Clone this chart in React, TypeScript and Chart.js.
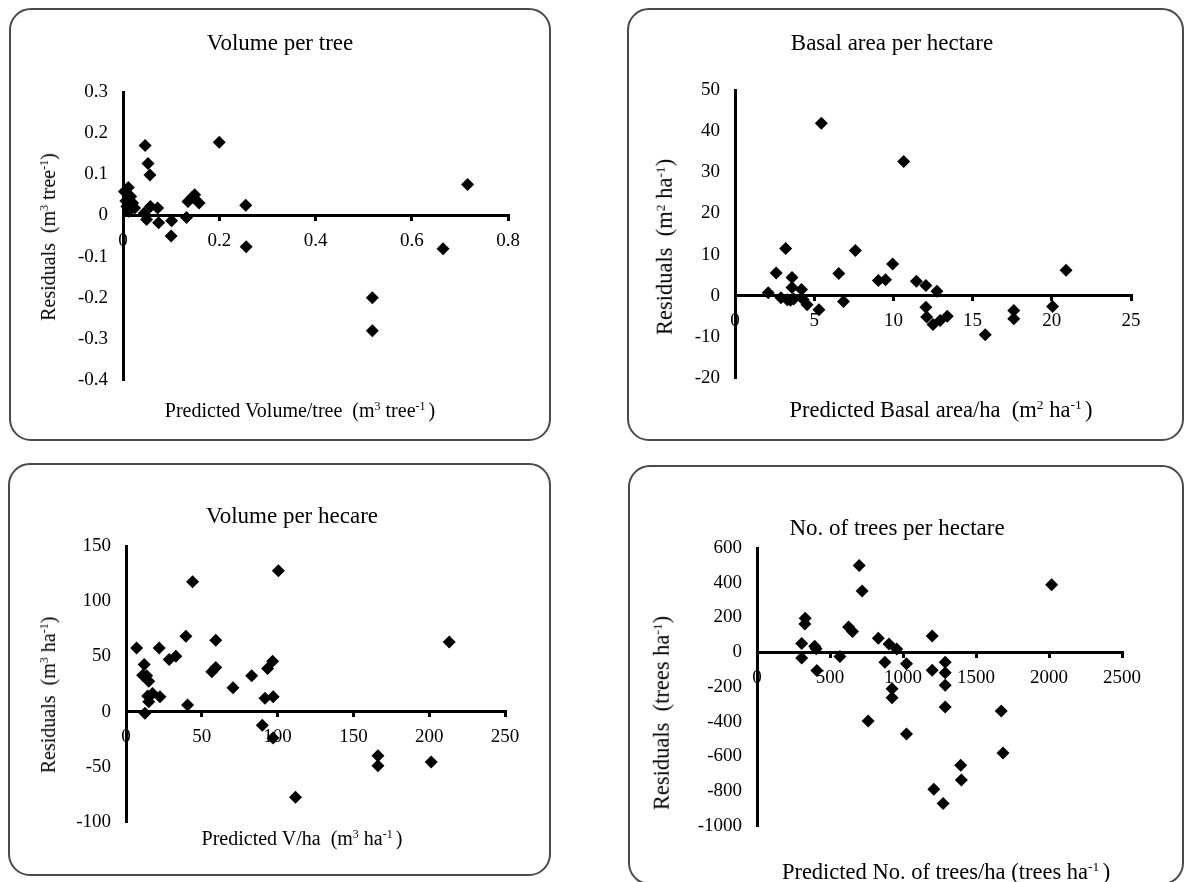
import React, { useEffect, useRef } from "react";
import { Chart, registerables } from "chart.js";

Chart.register(...registerables);

const FONT = '"Liberation Serif", "Times New Roman", Times, serif';

// ---------- Panel 1: Volume per tree ----------
const volTreePredicted = [
  0.003, 0.011, 0.016, 0.006, 0.02, 0.012, 0.024, 0.008, 0.046, 0.052, 0.056, 0.044,
  0.057, 0.072, 0.049, 0.074, 0.101, 0.1, 0.132, 0.135, 0.149, 0.158, 0.144, 0.2,
  0.255, 0.256, 0.518, 0.518, 0.665, 0.716,
];
const volTreeResidual = [
  0.058, 0.068, 0.046, 0.035, 0.03, 0.01, 0.018, 0.022, 0.17, 0.126, 0.098, 0.005,
  0.022, 0.018, -0.01, -0.018, -0.013, -0.05, -0.005, 0.034, 0.05, 0.03, 0.044, 0.178,
  0.025, -0.076, -0.2, -0.28, -0.081, 0.075,
];
const volTreeXTicks = ["0", "0.2", "0.4", "0.6", "0.8"];
const volTreeYTicks = ["0.3", "0.2", "0.1", "0", "-0.1", "-0.2", "-0.3", "-0.4"];

// ---------- Panel 2: Basal area per hectare ----------
const basalPredicted = [
  2.1, 2.6, 2.9, 3.2, 3.3, 3.5, 3.6, 3.6, 3.7, 4.2, 4.3, 4.55, 5.3, 5.45, 6.55, 6.85,
  7.6, 9.05, 9.5, 9.95, 10.65, 11.45, 12.05, 12.05, 12.1, 12.5, 12.75, 12.95, 13.4,
  15.8, 17.6, 17.6, 20.05, 20.9,
];
const basalResidual = [
  0.7, 5.5, -0.5, 11.5, -1, -1.1, 4.4, 2, -0.8, 1.5, -0.9, -2.2, -3.4, 41.9, 5.4, -1.4,
  11, 3.7, 3.9, 7.7, 32.6, 3.5, 2.5, -2.8, -5.2, -7, 1.1, -6, -5, -9.5, -3.6, -5.6,
  -2.6, 6.2,
];
const basalXTicks = ["0", "5", "10", "15", "20", "25"];
const basalYTicks = ["50", "40", "30", "20", "10", "0", "-10", "-20"];

// ---------- Panel 3: Volume per hectare ----------
const volHaPredicted = [
  7, 12, 11, 13.6, 15, 21.9, 28.5, 32.9, 39.5, 43.9, 40.6, 12.5, 14.3, 15, 17.5, 22.4,
  56.6, 59.2, 59.2, 70.6, 82.9, 91.7, 93.4, 96.7, 97.1, 100.5, 89.9, 97, 111.8, 166.2,
  166.2, 201.3, 213.2,
];
const volHaResidual = [
  57.7, 42.6, 33, 32.4, 27.6, 57.7, 47.1, 50.2, 68.2, 117.7, 6, -1.5, 14.1, 9, 16.5,
  13.5, 36, 39.9, 64.6, 21.6, 32.4, 12, 39, 45.6, 13.5, 127.5, -12.3, -24, -77.5, -40,
  -49, -45.6, 63.1,
];
const volHaXTicks = ["0", "50", "100", "150", "200", "250"];
const volHaYTicks = ["150", "100", "50", "0", "-50", "-100"];

// ---------- Panel 4: No. of trees per hectare ----------
const treesPredicted = [
  306, 306, 330, 328, 395, 405, 410, 568, 627, 654, 700, 720, 761, 831, 876, 904, 925,
  925, 957, 1024, 1024, 1200, 1200, 1211, 1275, 1289, 1289, 1289, 1289, 1395, 1400,
  1673, 1685, 2018,
];
const treesResidual = [
  50, -33, 195, 162, 34, 20, -105, -25, 145, 120, 500, 352, -395, 80, -57, 48, -210,
  -262, 18, -66, -470, 93, -104, -789, -870, -58, -118, -190, -315, -650, -735, -338,
  -580, 388,
];
const treesXTicks = ["0", "500", "1000", "1500", "2000", "2500"];
const treesYTicks = ["600", "400", "200", "0", "-200", "-400", "-600", "-800", "-1000"];

type Box = { left: number; top: number; width: number; height: number };
type Area = { left: number; top: number; right: number; bottom: number };
type Pt = { x: number; y: number };

type PanelProps = {
  box: Box;
  area: Area;
  xs: number[];
  ys: number[];
  xTicks: string[];
  yTicks: string[];
  title: string;
  titlePos: Pt;
  xTitle: React.ReactNode;
  xTitlePos: Pt;
  yTitle: React.ReactNode;
  yTitlePos: Pt;
  axisTitleSize: number;
};

const Y_W = 60;
const TICK_SIZE = 19;
const TITLE_SIZE = 23;

function labelFor(labels: string[]) {
  const vals = labels.map(Number);
  const span = Math.max(...vals) - Math.min(...vals);
  return (v: number | string) => {
    const n = Number(v);
    const i = vals.findIndex((t) => Math.abs(t - n) < span * 1e-6);
    return i >= 0 ? labels[i] : "";
  };
}

function Panel(p: PanelProps) {
  const ref = useRef<HTMLCanvasElement | null>(null);
  useEffect(() => {
    if (!ref.current) return;
    const xVals = p.xTicks.map(Number);
    const yVals = p.yTicks.map(Number);
    const chart = new Chart(ref.current, {
      type: "scatter",
      data: {
        datasets: [
          {
            data: p.xs.map((x, i) => ({ x, y: p.ys[i] })),
            pointStyle: "rectRot",
            pointRadius: 6.5,
            pointHoverRadius: 6.5,
            backgroundColor: "#000",
            borderColor: "#000",
            borderWidth: 0,
            clip: false,
          } as any,
        ],
      },
      options: {
        responsive: false,
        maintainAspectRatio: false,
        animation: false,
        events: [],
        layout: {
          padding: {
            left: p.area.left - p.box.left - Y_W,
            top: p.area.top - p.box.top,
            right: p.box.left + p.box.width - p.area.right,
            bottom: p.box.top + p.box.height - p.area.bottom,
          },
        },
        plugins: {
          legend: { display: false },
          tooltip: { enabled: false },
          title: { display: false },
        },
        scales: {
          x: {
            type: "linear",
            position: { y: 0 } as any,
            min: Math.min(...xVals),
            max: Math.max(...xVals),
            afterBuildTicks: (s: any) => {
              s.ticks = xVals.map((v) => ({ value: v }));
            },
            ticks: {
              autoSkip: false,
              maxRotation: 0,
              padding: 10,
              color: "#000",
              font: { family: FONT, size: TICK_SIZE },
              callback: labelFor(p.xTicks),
            },
            grid: {
              drawOnChartArea: false,
              drawTicks: true,
              tickLength: 4,
              color: "#000",
              lineWidth: 3,
            },
            border: { display: true, color: "#000", width: 3 },
          },
          y: {
            type: "linear",
            position: "left",
            min: Math.min(...yVals),
            max: Math.max(...yVals),
            afterFit: (s: any) => {
              s.width = Y_W;
            },
            afterBuildTicks: (s: any) => {
              s.ticks = yVals.map((v) => ({ value: v }));
            },
            ticks: {
              autoSkip: false,
              padding: 15,
              color: "#000",
              font: { family: FONT, size: TICK_SIZE },
              callback: labelFor(p.yTicks),
            },
            grid: { drawOnChartArea: false, drawTicks: false, color: "rgba(0,0,0,0)" },
            border: { display: true, color: "#000", width: 3 },
          },
        },
      } as any,
    });
    return () => chart.destroy();
  }, []);

  const textBase: React.CSSProperties = {
    position: "absolute",
    fontFamily: FONT,
    color: "#000",
    whiteSpace: "pre",
    lineHeight: 1,
  };

  return (
    <>
      <div
        style={{
          position: "absolute",
          left: p.box.left,
          top: p.box.top,
          width: p.box.width,
          height: p.box.height,
          border: "2px solid #4a4a4a",
          borderRadius: 22,
          boxSizing: "border-box",
          background: "#fff",
        }}
      />
      <canvas
        ref={ref}
        width={p.box.width}
        height={p.box.height}
        style={{
          position: "absolute",
          left: p.box.left,
          top: p.box.top,
          width: p.box.width,
          height: p.box.height,
        }}
      />
      <div
        style={{
          ...textBase,
          left: p.titlePos.x,
          top: p.titlePos.y,
          fontSize: TITLE_SIZE,
          transform: "translate(-50%, -50%)",
        }}
      >
        {p.title}
      </div>
      <div
        style={{
          ...textBase,
          left: p.xTitlePos.x,
          top: p.xTitlePos.y,
          fontSize: p.axisTitleSize,
          transform: "translate(-50%, -50%)",
        }}
      >
        {p.xTitle}
      </div>
      <div
        style={{
          ...textBase,
          left: p.yTitlePos.x,
          top: p.yTitlePos.y,
          fontSize: p.axisTitleSize,
          transform: "translate(-50%, -50%) rotate(-90deg)",
        }}
      >
        {p.yTitle}
      </div>
    </>
  );
}

const supStyle: React.CSSProperties = { fontSize: "0.6em", verticalAlign: "0.55em", lineHeight: 0 };
const Sup = ({ children }: { children: React.ReactNode }) => <span style={supStyle}>{children}</span>;

export default function App() {
  return (
    <div
      style={{
        position: "absolute",
        left: 0,
        top: 0,
        width: 1185,
        height: 882,
        overflow: "hidden",
        background: "#fff",
      }}
    >
      <Panel
        box={{ left: 9, top: 8, width: 542, height: 433 }}
        area={{ left: 123, top: 92, right: 508, bottom: 380 }}
        xs={volTreePredicted}
        ys={volTreeResidual}
        xTicks={volTreeXTicks}
        yTicks={volTreeYTicks}
        title="Volume per tree"
        titlePos={{ x: 280, y: 42 }}
        xTitle={
          <>
            Predicted Volume/tree  (m<Sup>3</Sup> tree<Sup>-1 </Sup>)
          </>
        }
        xTitlePos={{ x: 300, y: 410 }}
        yTitle={
          <>
            Residuals  (m<Sup>3</Sup> tree<Sup>-1</Sup>)
          </>
        }
        yTitlePos={{ x: 48, y: 237 }}
        axisTitleSize={20}
      />
      <Panel
        box={{ left: 627, top: 8, width: 557, height: 433 }}
        area={{ left: 735, top: 90, right: 1131, bottom: 378 }}
        xs={basalPredicted}
        ys={basalResidual}
        xTicks={basalXTicks}
        yTicks={basalYTicks}
        title="Basal area per hectare"
        titlePos={{ x: 892, y: 42 }}
        xTitle={
          <>
            Predicted Basal area/ha  (m<Sup>2</Sup> ha<Sup>-1 </Sup>)
          </>
        }
        xTitlePos={{ x: 941, y: 410 }}
        yTitle={
          <>
            Residuals  (m<Sup>2</Sup> ha<Sup>-1</Sup>)
          </>
        }
        yTitlePos={{ x: 665, y: 247 }}
        axisTitleSize={22.5}
      />
      <Panel
        box={{ left: 8, top: 463, width: 543, height: 413 }}
        area={{ left: 126, top: 546, right: 505, bottom: 822 }}
        xs={volHaPredicted}
        ys={volHaResidual}
        xTicks={volHaXTicks}
        yTicks={volHaYTicks}
        title="Volume per hecare"
        titlePos={{ x: 292, y: 515 }}
        xTitle={
          <>
            Predicted V/ha  (m<Sup>3</Sup> ha<Sup>-1 </Sup>)
          </>
        }
        xTitlePos={{ x: 302, y: 838 }}
        yTitle={
          <>
            Residuals  (m<Sup>3</Sup> ha<Sup>-1</Sup>)
          </>
        }
        yTitlePos={{ x: 48, y: 695 }}
        axisTitleSize={20}
      />
      <Panel
        box={{ left: 628, top: 465, width: 556, height: 420 }}
        area={{ left: 757, top: 548, right: 1122, bottom: 826 }}
        xs={treesPredicted}
        ys={treesResidual}
        xTicks={treesXTicks}
        yTicks={treesYTicks}
        title="No. of trees per hectare"
        titlePos={{ x: 897, y: 527 }}
        xTitle={
          <>
            Predicted No. of trees/ha (trees ha<Sup>-1 </Sup>)
          </>
        }
        xTitlePos={{ x: 946, y: 872 }}
        yTitle={
          <>
            Residuals  (trees ha<Sup>-1</Sup>)
          </>
        }
        yTitlePos={{ x: 662, y: 713 }}
        axisTitleSize={22.5}
      />
    </div>
  );
}
